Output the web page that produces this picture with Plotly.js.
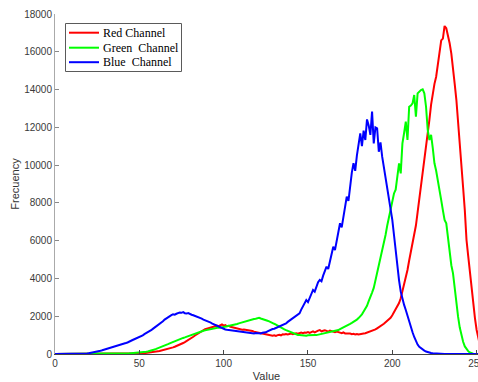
<!DOCTYPE html>
<html>
<head>
<meta charset="utf-8">
<script src="https://cdn.plot.ly/plotly-3.0.1.min.js"></script>
<style>html,body{margin:0;padding:0;background:#fff;}#chart{width:478px;height:382px;}</style>
</head>
<body>
<div id="chart"></div>
<script>
// Pixel intensity bins 0..255
const bins = Array.from({length: 256}, (_, i) => i);

const seriesNames = ["Red Channel", "Green\u00A0 Channel", "Blue\u00A0 Channel"];

const redCounts = [
0,0,0,0,0,0,0,0,0,0,0,0,0,0,0,0,
0,0,0,0,0,0,0,0,0,0,0,0,0,0,0,0,
0,0,0,0,0,0,0,0,0,0,0,0,0,0,3,8,
15,20,25,32,38,45,52,60,70,82,95,110,120,140,160,180,
205,230,250,280,310,330,350,385,420,445,475,530,580,630,680,740,
800,860,915,980,1040,1100,1160,1220,1270,1310,1340,1380,1400,1420,1445,1480,
1500,1470,1535,1560,1500,1530,1470,1490,1445,1420,1380,1350,1330,1300,1310,1280,
1290,1280,1250,1270,1230,1220,1180,1160,1130,1095,1110,1060,1040,1020,1000,990,
980,970,990,960,1000,1020,990,1040,1030,1060,1040,1060,1080,1050,1090,1100,
1070,1120,1130,1100,1140,1130,1160,1120,1180,1200,1150,1210,1240,1270,1200,1230,
1260,1220,1180,1240,1200,1180,1150,1190,1140,1130,1100,1140,1090,1095,1060,1080,
1050,1070,1040,1060,1030,1060,1080,1090,1100,1130,1150,1180,1200,1240,1300,1360,
1420,1445,1500,1600,1680,1750,1800,1920,2050,2200,2330,2500,2700,2950,3300,3650,
3950,4450,4950,5400,5900,6400,6800,7500,8200,8900,9500,10100,10700,11500,12400,13200,
13900,14300,14680,15400,16100,16600,16700,17365,17250,16900,16450,15900,15210,14300,13445,12400,
11330,9900,8800,7600,6035,5200,4300,3390,2600,1900,1270,800,450,200,80,20
];

const greenCounts = [
0,0,0,0,0,0,0,0,0,0,0,0,0,0,0,0,
0,0,0,0,0,0,0,0,0,0,0,0,0,0,0,0,
0,3,5,7,10,12,15,17,20,24,28,32,36,40,45,50,
55,62,70,75,85,100,115,130,150,180,210,240,270,300,340,390,
430,460,480,520,560,600,650,680,720,760,790,820,850,880,915,950,
980,1010,1040,1080,1120,1150,1180,1200,1230,1250,1270,1290,1310,1330,1360,1370,
1380,1400,1390,1410,1420,1430,1445,1460,1480,1500,1530,1560,1590,1620,1650,1680,
1700,1730,1760,1780,1790,1820,1850,1870,1900,1920,1880,1860,1830,1800,1760,1730,
1700,1660,1600,1560,1500,1450,1400,1350,1300,1260,1220,1180,1150,1120,1080,1050,
1005,1000,990,980,980,970,990,1000,990,1005,1010,1000,1020,1040,1030,1060,
1070,1095,1110,1130,1150,1180,1210,1240,1270,1320,1360,1400,1450,1480,1535,1600,
1650,1700,1750,1820,1900,1975,2100,2250,2400,2550,2800,3000,3250,3500,3900,4300,
4600,5000,5400,5900,6300,6800,7200,7700,8100,8500,8700,9300,10095,9565,11150,11700,
12300,11330,13090,13150,13270,13710,12565,13800,13900,13975,14010,13800,13090,11860,11330,11600,
10900,10095,9700,9200,8860,8150,7600,7100,6920,6100,5300,4700,4270,3400,2600,1975,
1400,915,650,400,250,150,80,35,15,5,0,0,0,0,0,0
];

const blueCounts = [
0,0,0,0,0,0,0,0,0,0,0,0,0,0,0,0,
0,10,20,30,40,55,70,90,110,130,150,175,200,225,250,275,
300,320,345,370,395,430,460,490,520,545,580,610,640,690,740,780,
820,860,880,920,980,1050,1095,1140,1200,1260,1330,1390,1450,1520,1590,1660,
1730,1820,1890,1950,1990,2060,2100,2080,2130,2170,2200,2180,2220,2160,2140,2170,
2100,2080,2050,2020,1980,1950,1900,1870,1820,1790,1740,1720,1680,1620,1580,1530,
1480,1430,1400,1360,1320,1300,1280,1270,1250,1230,1240,1200,1190,1180,1170,1150,
1160,1130,1120,1110,1120,1100,1090,1110,1095,1100,1090,1120,1130,1150,1200,1250,
1290,1320,1340,1380,1400,1450,1480,1530,1580,1620,1700,1760,1820,1890,1950,2020,
2090,2150,2350,2500,2650,2860,2750,3000,3250,3390,3300,3550,3800,3920,3850,4150,
4450,4620,4500,4900,5300,5680,5500,6000,6550,6920,6700,7300,7900,8330,8100,8900,
9600,10100,9700,10500,11100,11680,11000,11820,11330,12420,12100,11600,12830,11150,12000,11950,
10710,11200,10445,9915,9400,8860,8300,7700,7100,6300,5400,4600,3900,3300,2900,2600,
2330,2000,1700,1445,1150,900,650,500,380,300,250,180,130,90,70,50,
35,25,15,10,5,0,0,0,0,0,0,0,0,0,0,0,
0,0,0,0,0,0,0,0,0,0,0,0,0,0,0,0
];

const xTicks = [0, 50, 100, 150, 200, 250];
const yTicks = [0, 2000, 4000, 6000, 8000, 10000, 12000, 14000, 16000, 18000];
const lineColors = ["#ff0000", "#00ff00", "#0000ff"];

const W = 478, H = 382;
const M = {l: 55, r: 0, t: 14, b: 28};
const PW = W - M.l - M.r, PH = H - M.t - M.b;
const px2x = p => (p - M.l) / PW;
const px2y = p => (H - M.b - p) / PH;

const allCounts = [redCounts, greenCounts, blueCounts];
const traces = allCounts.map((c, i) => ({
  type: 'scatter', mode: 'lines', x: bins, y: c, name: seriesNames[i],
  line: {color: lineColors[i], width: 2}, showlegend: false, hoverinfo: 'skip'
}));

// Custom legend (box, sample lines, labels)
const legendRows = [32.7, 47.7, 62.2];
const shapes = [{
  type: 'rect', xref: 'paper', yref: 'paper',
  x0: px2x(65.5), x1: px2x(181.5), y0: px2y(71.5), y1: px2y(23.5),
  line: {color: '#5a5a5a', width: 1}, fillcolor: '#ffffff', layer: 'above'
}];
const annotations = [];
legendRows.forEach((ry, i) => {
  shapes.push({type: 'line', xref: 'paper', yref: 'paper', x0: px2x(69), x1: px2x(99),
    y0: px2y(ry), y1: px2y(ry), line: {color: lineColors[i], width: 2}, layer: 'above'});
  annotations.push({xref: 'paper', yref: 'paper', x: px2x(101), y: px2y(ry), xanchor: 'left', yanchor: 'middle',
    text: seriesNames[i], showarrow: false, font: {family: 'Liberation Serif, Times New Roman, serif', size: 12, color: '#000'}});
});

const tickFont = {family: 'Liberation Sans, Arial, Helvetica, sans-serif', size: 10, color: '#3a3a3a'};
const layout = {
  width: W, height: H, margin: M, paper_bgcolor: '#fff', plot_bgcolor: '#fff',
  showlegend: false,
  xaxis: {
    range: [0, PW / 1.6865], tickvals: xTicks, ticktext: xTicks.map(String),
    ticks: 'inside', ticklen: 4, tickcolor: '#444', showline: true, linecolor: '#444', linewidth: 1,
    showgrid: false, zeroline: false, tickfont: tickFont, ticklabeloverflow: 'allow',
    title: {text: 'Value', font: {family: 'Liberation Sans, Arial, sans-serif', size: 11, color: '#333'}, standoff: 6}
  },
  yaxis: {
    range: [0, 18000], tickvals: yTicks, ticktext: yTicks.map(String),
    ticks: 'inside', ticklen: 4, tickcolor: '#888', showline: true, linecolor: '#aaa', linewidth: 1,
    showgrid: false, zeroline: false, tickfont: tickFont,
    title: {text: 'Frecuency', font: {family: 'Liberation Sans, Arial, sans-serif', size: 11, color: '#333'}, standoff: 2}
  },
  shapes: shapes, annotations: annotations
};

Plotly.newPlot('chart', traces, layout, {staticPlot: true, displayModeBar: false});
</script>
</body>
</html>
